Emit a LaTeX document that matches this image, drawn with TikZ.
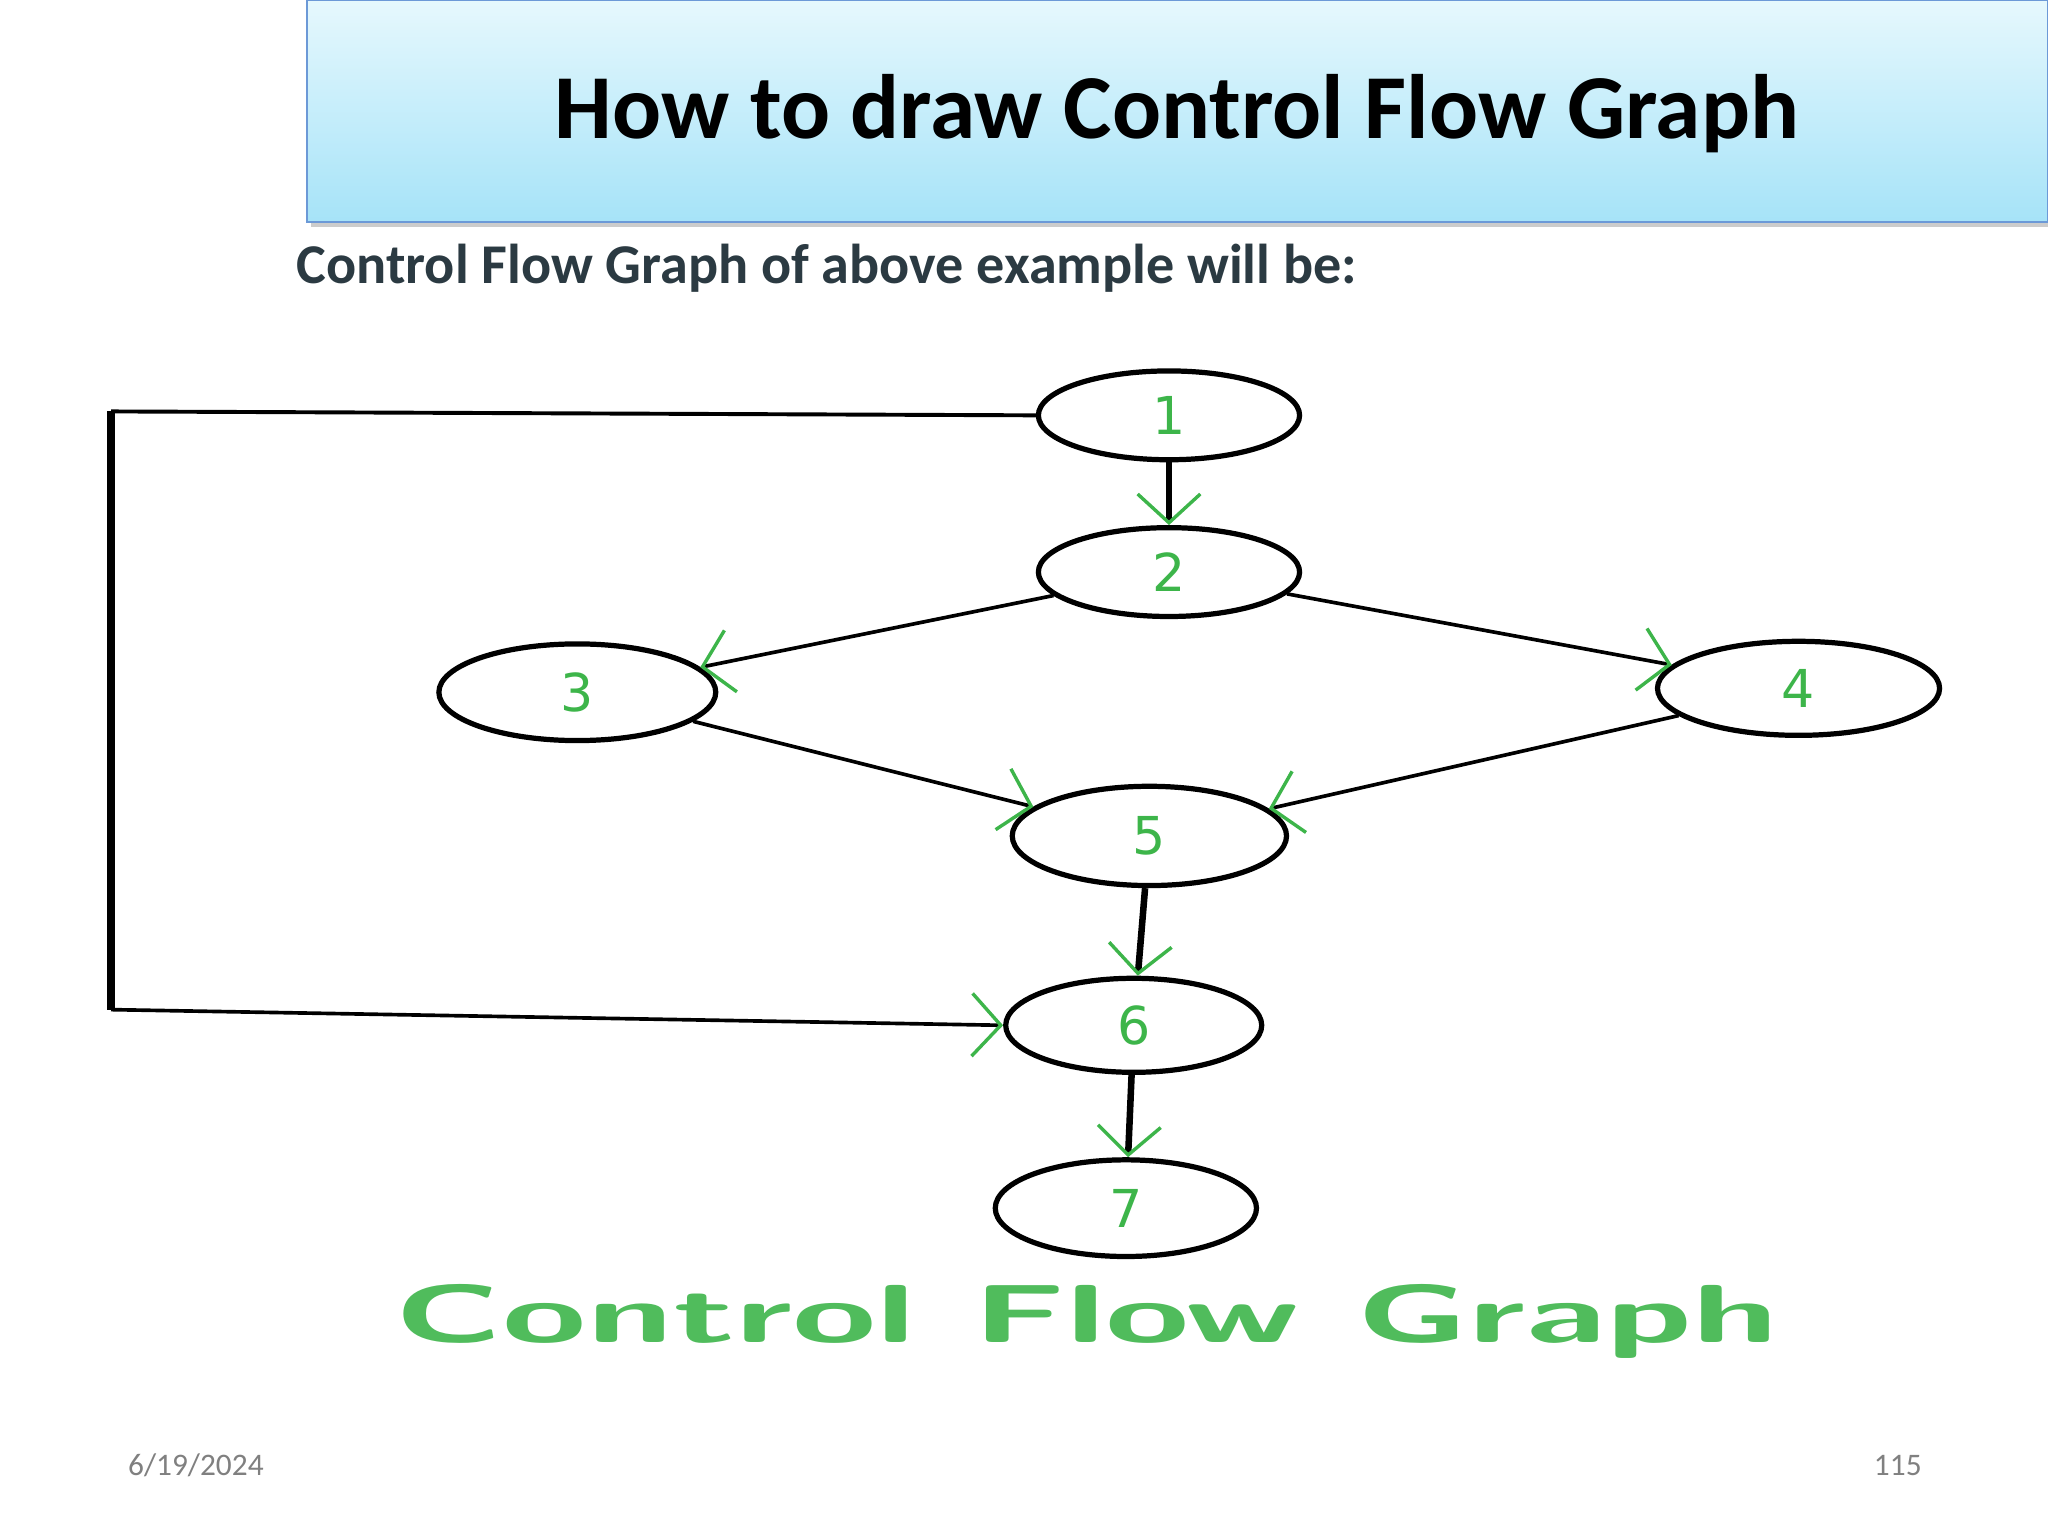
\documentclass[tikz,border=0pt]{standalone}
\usepackage{fontspec}
\setmainfont{Carlito}
\newfontfamily\numfont{DejaVu Sans}
\usetikzlibrary{arrows.meta,shadows,shapes.geometric}
\definecolor{gr}{HTML}{3DB54A}
\definecolor{tt}{HTML}{2B3A42}
\definecolor{tb}{HTML}{E6F8FD}
\definecolor{bb}{HTML}{A6E3F8}
\tikzset{
  nd/.style={draw=black,line width=2pt,ellipse,minimum width=#1},
  nd/.default=100pt,
  ed/.style={line width=1.4pt,-{Straight Barb[color=gr,length=11pt,width=24pt,line width=1.3pt]}},
  lbl/.style={text=gr,font=\numfont\fontsize{20}{20}\selectfont}
}
\begin{document}
\begin{tikzpicture}[x=0.5pt,y=-0.5pt]
\useasboundingbox (0,0) rectangle (1568,1176);
\fill[white] (0,0) rectangle (1568,1176);
\fill[gray!40] (238,4) rectangle (1568,174);
\shade[top color=tb, bottom color=bb] (235,0) rectangle (1568,170);
\draw[cyan!50!blue!60,line width=0.8pt] (235,0) rectangle (1568,170);
\node (title) at (901,87) {\fontsize{35}{38}\selectfont\bfseries How to draw Control Flow Graph};
\node[anchor=west,text=tt] (sub) at (220,205) {\fontsize{21.5}{24}\selectfont\bfseries Control Flow Graph of above example will be:};
\node[nd=100pt,minimum height=34pt,lbl] (n1) at (895,318) {1};
\node[nd=100pt,minimum height=34pt,lbl] (n2) at (895,438) {2};
\node[nd=106pt,minimum height=37pt,lbl] (n3) at (442,530) {3};
\node[nd=108pt,minimum height=36pt,lbl] (n4) at (1377,527) {4};
\node[nd=105pt,minimum height=38pt,lbl] (n5) at (880,640) {5};
\node[nd=98pt,minimum height=36pt,lbl] (n6) at (868,785) {6};
\node[nd=100pt,minimum height=37pt,lbl] (n7) at (862,925) {7};
\draw[ed,line width=2.5pt] (n1) -- (n2);
\draw[ed] (n2) -- (n3);
\draw[ed] (n2) -- (n4);
\draw[ed] (n3) -- (n5);
\draw[ed] (n4) -- (n5);
\draw[ed,line width=2.5pt] (n5) -- (n6);
\draw[ed,line width=2.5pt] (n6) -- (n7);
\coordinate (c1) at (85,315);
\coordinate (c2) at (85,773);
\draw[line width=1.5pt] (n1.west) -- (c1);
\draw[line width=3pt] (c1) -- (c2);
\draw[ed] (c2) -- (n6.west);
\node[text=gr!90!white] (cap) at (832,1012) {\scalebox{1.96}[1.05]{\fontsize{30}{30}\selectfont\bfseries\sffamily Control Flow Graph}};
\node[text=gray] (date) at (150,1122) {\fontsize{12}{14}\selectfont 6/19/2024};
\node[text=gray] (pg) at (1453,1122) {\fontsize{12}{14}\selectfont 115};
\end{tikzpicture}
\end{document}
